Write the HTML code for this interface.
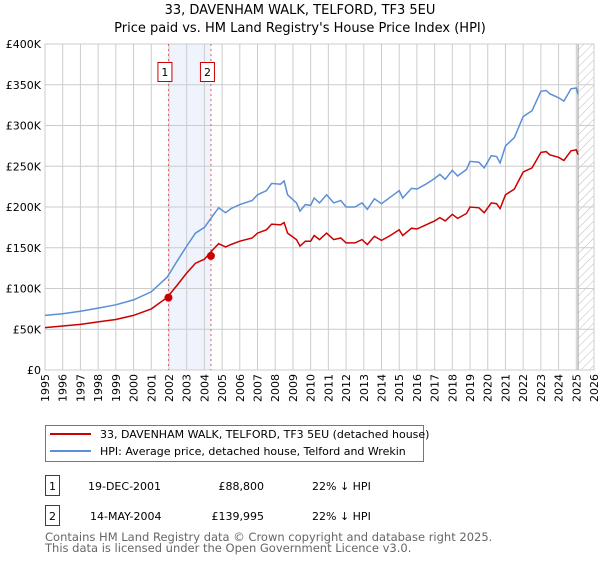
<!DOCTYPE html>
<html><head><meta charset="utf-8"><style>
body{margin:0;background:#fff;font-family:"Liberation Sans","DejaVu Sans",sans-serif;}
svg text{font-family:"DejaVu Sans","Liberation Sans",sans-serif;}
</style></head><body>
<svg id="chart" width="600" height="560" xmlns="http://www.w3.org/2000/svg">
<defs><pattern id="hatch" width="6" height="6" patternUnits="userSpaceOnUse" patternTransform="rotate(45)"><line x1="0" y1="0" x2="0" y2="6" stroke="#bbb" stroke-width="1"/></pattern></defs>
<text x="300" y="14" text-anchor="middle" font-size="13">33, DAVENHAM WALK, TELFORD, TF3 5EU</text>
<text x="300" y="32" text-anchor="middle" font-size="13">Price paid vs. HM Land Registry's House Price Index (HPI)</text>
<g id="plot"></g>
<g>
<rect x="45.5" y="425.5" width="378" height="36" fill="#fff" stroke="#777"/>
<line x1="50" y1="434" x2="91" y2="434" stroke="#cc0000" stroke-width="2"/>
<text x="100" y="438" font-size="11">33, DAVENHAM WALK, TELFORD, TF3 5EU (detached house)</text>
<line x1="50" y1="451" x2="91" y2="451" stroke="#5b8fd6" stroke-width="2"/>
<text x="100" y="455" font-size="11">HPI: Average price, detached house, Telford and Wrekin</text>
</g>
<g>
<rect x="45.5" y="475.5" width="14" height="20" fill="#fff" stroke="#cc0000"/>
<text x="52.5" y="490" text-anchor="middle" font-size="11">1</text>
<text x="88" y="490" font-size="11">19-DEC-2001</text>
<text x="264" y="490" text-anchor="end" font-size="11">£88,800</text>
<text x="312" y="490" font-size="11">22% ↓ HPI</text>
<rect x="45.5" y="505.5" width="14" height="20" fill="#fff" stroke="#cc0000"/>
<text x="52.5" y="520" text-anchor="middle" font-size="11">2</text>
<text x="90" y="520" font-size="11">14-MAY-2004</text>
<text x="264" y="520" text-anchor="end" font-size="11">£139,995</text>
<text x="312" y="520" font-size="11">22% ↓ HPI</text>
</g>
<text x="45" y="541" font-size="11.5" fill="#666">Contains HM Land Registry data © Crown copyright and database right 2025.</text>
<text x="45" y="552" font-size="11.5" fill="#666">This data is licensed under the Open Government Licence v3.0.</text>
</svg>
<script>
const years=[1995,1996,1997,1998,1999,2000,2001,2001.9,2002.5,2003,2003.5,2004,2004.5,2004.8,2005.2,2005.5,2006,2006.7,2007,2007.5,2007.8,2008.3,2008.5,2008.7,2009.2,2009.4,2009.7,2010,2010.2,2010.5,2010.9,2011.3,2011.7,2012,2012.5,2012.9,2013.2,2013.6,2014,2014.5,2015,2015.2,2015.7,2016,2016.5,2017,2017.3,2017.6,2018,2018.3,2018.8,2019,2019.5,2019.8,2020.2,2020.5,2020.7,2021,2021.5,2022,2022.5,2023,2023.3,2023.5,2024,2024.3,2024.7,2025,2025.1];
const hpiValues=[67,69,72,76,80,86,96,114,135,152,168,175,190,199,193,198,203,208,215,220,229,228,232,215,205,195,203,202,211,205,215,205,208,200,200,205,197,210,204,212,220,211,223,222,228,235,240,234,245,238,246,256,255,248,263,262,254,275,285,311,318,342,343,339,334,330,345,346,338];
const priceValues=[52,54,56,59,62,67,75,89,105,119,131,136,148,155,151,154,158,162,168,172,179,178,181,168,160,152,158,158,165,160,168,160,162,156,156,160,154,164,159,165,172,165,174,173,178,183,187,183,191,186,192,200,199,193,205,204,198,215,222,243,248,267,268,264,261,257,269,270,264];
const saleYears=[2001.97,2004.37];
const salePrices=[88.8,139.995];
const saleLabels=["1","2"];
const yTicks=[0,50,100,150,200,250,300,350,400];
const yTickLabels=["£0","£50K","£100K","£150K","£200K","£250K","£300K","£350K","£400K"];
const xTicks=[1995,1996,1997,1998,1999,2000,2001,2002,2003,2004,2005,2006,2007,2008,2009,2010,2011,2012,2013,2014,2015,2016,2017,2018,2019,2020,2021,2022,2023,2024,2025,2026];
const X0=45,X1=594,Y0=370,Y1=44;
const x=v=>X0+(v-1995)/(2026-1995)*(X1-X0);
const y=v=>Y0-v/400*(Y0-Y1);
const NS="http://www.w3.org/2000/svg";
const g=document.getElementById('plot');
function mk(t,a,p){const e=document.createElementNS(NS,t);for(const k in a)e.setAttribute(k,a[k]);(p||g).appendChild(e);return e;}
// shading
const sh=mk('rect',{x:x(saleYears[0]),y:Y1,width:x(saleYears[1])-x(saleYears[0]),height:Y0-Y1,fill:'#eef3fc'});


const hz=mk('rect',{x:x(2025.1),y:Y1,width:X1-x(2025.1),height:Y0-Y1,fill:'url(#hatch)'});


mk('line',{x1:x(2025.1),y1:Y1,x2:x(2025.1),y2:Y0,stroke:'#999','stroke-width':1});
xTicks.forEach(v=>{
 mk('line',{x1:x(v),y1:Y1,x2:x(v),y2:Y0,stroke:'#ccc','stroke-width':1});
 const t=mk('text',{x:0,y:0,'font-size':11,'text-anchor':'end',transform:`translate(${x(v)+4},${Y0+4}) rotate(-90)`});
 t.textContent=v;
 
 
});
yTicks.forEach((v,i)=>{
 mk('line',{x1:X0,y1:y(v),x2:X1,y2:y(v),stroke:'#ccc','stroke-width':1});
 const t=mk('text',{x:X0-4,y:y(v)+4,'font-size':11,'text-anchor':'end'});
 t.textContent=yTickLabels[i];
 
 
});
mk('rect',{x:X0,y:Y1,width:X1-X0,height:Y0-Y1,fill:'none',stroke:'#ccc'});
saleYears.forEach((v,i)=>{
 const l=mk('line',{x1:x(v),y1:Y1,x2:x(v),y2:Y0,stroke:'#e06060','stroke-width':1,'stroke-dasharray':'2,3'});
 
 
 const b=mk('rect',{x:x(v)-10.5,y:62.5,width:14,height:19,fill:'#fff',stroke:'#cc0000'});
 
 
 const t=mk('text',{x:x(v)-3.5,y:76,'font-size':11,'text-anchor':'middle'});
 t.textContent=saleLabels[i];
});
const line=(vals,col,name)=>{
 const p=mk('path',{d:years.map((yr,i)=>(i?'L':'M')+x(yr).toFixed(1)+','+y(vals[i]).toFixed(1)).join(''),fill:'none',stroke:col,'stroke-width':1.5});
 
 
};
line(hpiValues,'#5b8fd6','hpi-line');
line(priceValues,'#cc0000','price-line');
saleYears.forEach((v,i)=>{
 const c=mk('circle',{cx:x(v),cy:y(salePrices[i]),r:4,fill:'#cc0000'});
 
 
});
</script>
</body></html>
